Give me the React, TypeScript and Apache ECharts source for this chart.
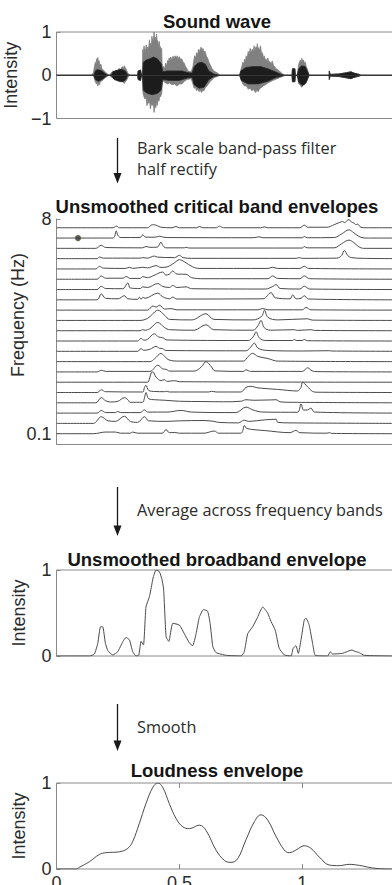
import React, { useEffect, useRef } from 'react';
import * as echarts from 'echarts';

// ---------- axis / tick data ----------
const TIME_MIN = 0;
const TIME_MAX = 1.4;
const timeTicks = [0, 0.5, 1];
const bandTickValues = [0, 20.85];
const bandTickLabels = ['0.1', '8'];

const titles = ['Sound wave', 'Unsmoothed critical band envelopes', 'Unsmoothed broadband envelope', 'Loudness envelope'];
const stepLabels = ['Bark scale band-pass filter', 'half rectify', 'Average across frequency bands', 'Smooth'];

// ---------- sound wave (envelopes, [time s, amplitude]) ----------
const waveOuterUpper = [[0,0],[0.14,0],[0.15,0.05],[0.155,0.22],[0.158,0.3],[0.161,0.25],[0.163,0.38],[0.166,0.33],[0.168,0.41],[0.171,0.3],[0.173,0.34],[0.177,0.22],[0.18,0.26],[0.185,0.15],[0.19,0.12],[0.205,0.04],[0.215,0],[0.222,0.05],[0.23,0.1],[0.236,0.08],[0.24,0.12],[0.248,0.1],[0.255,0.16],[0.26,0.13],[0.268,0.2],[0.272,0.16],[0.276,0.22],[0.28,0.17],[0.283,0.15],[0.29,0.05],[0.3,0],[0.33,0],[0.332,0.1],[0.342,0.12],[0.346,0],[0.349,0],[0.351,0.6],[0.354,0.5],[0.356,0.68],[0.36,0.55],[0.363,0.62],[0.365,0.7],[0.369,0.58],[0.372,0.66],[0.375,0.6],[0.378,0.82],[0.381,0.66],[0.383,0.74],[0.386,0.68],[0.388,0.9],[0.392,0.78],[0.395,0.86],[0.397,1.0],[0.4,0.8],[0.402,0.88],[0.405,0.78],[0.407,0.95],[0.41,0.75],[0.412,0.8],[0.415,0.66],[0.418,0.78],[0.421,0.6],[0.423,0.66],[0.426,0.55],[0.428,0.62],[0.43,0.15],[0.435,0.2],[0.44,0.16],[0.444,0.28],[0.448,0.22],[0.452,0.34],[0.455,0.3],[0.458,0.4],[0.462,0.34],[0.465,0.42],[0.47,0.36],[0.474,0.44],[0.478,0.38],[0.482,0.45],[0.487,0.4],[0.491,0.45],[0.495,0.39],[0.5,0.43],[0.505,0.36],[0.51,0.38],[0.515,0.3],[0.52,0.28],[0.525,0.2],[0.53,0.16],[0.535,0.1],[0.548,0.08],[0.555,0.2],[0.558,0.32],[0.562,0.45],[0.566,0.4],[0.57,0.52],[0.574,0.48],[0.578,0.6],[0.582,0.55],[0.588,0.65],[0.592,0.58],[0.596,0.62],[0.6,0.52],[0.604,0.56],[0.61,0.44],[0.615,0.4],[0.62,0.3],[0.625,0.25],[0.632,0.16],[0.64,0.1],[0.655,0.05],[0.665,0],[0.745,0],[0.75,0.12],[0.754,0.2],[0.758,0.3],[0.762,0.26],[0.765,0.37],[0.769,0.33],[0.772,0.45],[0.776,0.4],[0.78,0.55],[0.784,0.48],[0.788,0.62],[0.792,0.52],[0.796,0.6],[0.8,0.55],[0.804,0.68],[0.808,0.58],[0.812,0.66],[0.815,0.6],[0.817,0.73],[0.82,0.6],[0.823,0.64],[0.826,0.55],[0.83,0.68],[0.834,0.5],[0.838,0.52],[0.842,0.4],[0.845,0.45],[0.849,0.36],[0.852,0.38],[0.856,0.32],[0.86,0.4],[0.864,0.3],[0.868,0.32],[0.873,0.26],[0.878,0.33],[0.883,0.22],[0.888,0.2],[0.893,0.15],[0.898,0.14],[0.91,0.08],[0.92,0.03],[0.93,0],[0.958,0],[0.96,0.15],[0.97,0.15],[0.972,0],[0.98,0],[0.985,0.25],[0.988,0.3],[0.992,0.35],[0.995,0.3],[0.998,0.39],[1.002,0.32],[1.005,0.35],[1.009,0.28],[1.012,0.3],[1.016,0.2],[1.02,0.15],[1.028,0],[1.109,0],[1.11,0.1],[1.113,0.02],[1.15,0.03],[1.18,0.06],[1.198,0.08],[1.21,0.05],[1.232,0.02],[1.24,0],[1.4,0]];
const waveOuterLower = [[0,0],[0.15,0],[0.155,-0.1],[0.158,-0.15],[0.162,-0.2],[0.165,-0.17],[0.168,-0.25],[0.172,-0.18],[0.175,-0.22],[0.178,-0.15],[0.183,-0.14],[0.19,-0.1],[0.205,-0.03],[0.215,0],[0.225,-0.05],[0.24,-0.1],[0.25,-0.12],[0.26,-0.15],[0.268,-0.14],[0.276,-0.19],[0.28,-0.15],[0.285,-0.12],[0.295,0],[0.33,0],[0.332,-0.1],[0.342,-0.12],[0.346,0],[0.349,0],[0.352,-0.42],[0.356,-0.5],[0.36,-0.55],[0.364,-0.5],[0.368,-0.7],[0.372,-0.6],[0.375,-0.65],[0.379,-0.6],[0.382,-0.78],[0.386,-0.66],[0.39,-0.7],[0.394,-0.65],[0.397,-0.86],[0.401,-0.7],[0.404,-0.75],[0.407,-0.62],[0.41,-0.7],[0.414,-0.55],[0.417,-0.6],[0.42,-0.48],[0.423,-0.5],[0.428,-0.42],[0.432,-0.12],[0.44,-0.16],[0.45,-0.2],[0.46,-0.18],[0.47,-0.22],[0.48,-0.2],[0.49,-0.25],[0.5,-0.2],[0.51,-0.2],[0.52,-0.14],[0.53,-0.1],[0.548,-0.08],[0.556,-0.22],[0.56,-0.3],[0.565,-0.28],[0.57,-0.36],[0.575,-0.32],[0.58,-0.38],[0.585,-0.34],[0.59,-0.4],[0.595,-0.35],[0.6,-0.36],[0.606,-0.28],[0.612,-0.25],[0.625,-0.15],[0.64,-0.06],[0.665,0],[0.745,0],[0.752,-0.12],[0.758,-0.2],[0.765,-0.25],[0.772,-0.24],[0.78,-0.32],[0.788,-0.3],[0.795,-0.36],[0.802,-0.33],[0.81,-0.4],[0.815,-0.34],[0.82,-0.38],[0.828,-0.3],[0.835,-0.28],[0.842,-0.24],[0.85,-0.22],[0.86,-0.18],[0.87,-0.15],[0.88,-0.12],[0.89,-0.1],[0.91,-0.05],[0.93,0],[0.958,0],[0.96,-0.15],[0.97,-0.15],[0.972,0],[0.98,0],[0.985,-0.2],[0.99,-0.22],[0.998,-0.28],[1.004,-0.22],[1.01,-0.22],[1.02,-0.1],[1.028,0],[1.109,0],[1.11,-0.1],[1.113,-0.02],[1.15,-0.03],[1.18,-0.06],[1.198,-0.08],[1.21,-0.05],[1.232,-0.02],[1.24,0],[1.4,0]];
const waveCoreUpper = [[0,0],[0.152,0],[0.158,0.1],[0.165,0.13],[0.175,0.12],[0.185,0.1],[0.2,0.03],[0.21,0],[0.222,0],[0.23,0.08],[0.25,0.12],[0.265,0.14],[0.28,0.1],[0.29,0],[0.33,0],[0.332,0.1],[0.342,0.12],[0.346,0],[0.35,0],[0.353,0.3],[0.365,0.35],[0.38,0.38],[0.395,0.42],[0.41,0.38],[0.422,0.3],[0.428,0.25],[0.432,0.08],[0.45,0.1],[0.48,0.1],[0.51,0.1],[0.535,0.06],[0.552,0.05],[0.56,0.2],[0.575,0.28],[0.59,0.3],[0.605,0.26],[0.62,0.1],[0.64,0.03],[0.665,0],[0.745,0],[0.75,0.1],[0.77,0.18],[0.8,0.2],[0.83,0.2],[0.86,0.15],[0.89,0.08],[0.915,0.02],[0.93,0],[0.958,0],[0.96,0.15],[0.97,0.15],[0.972,0],[0.98,0],[0.985,0.15],[0.998,0.22],[1.012,0.2],[1.022,0.08],[1.028,0],[1.109,0],[1.11,0.1],[1.113,0.02],[1.15,0.03],[1.18,0.06],[1.198,0.08],[1.21,0.05],[1.232,0.02],[1.24,0],[1.4,0]];
const waveCoreLower = [[0,0],[0.152,0],[0.158,-0.1],[0.17,-0.14],[0.185,-0.1],[0.2,-0.03],[0.21,0],[0.222,0],[0.235,-0.1],[0.255,-0.14],[0.27,-0.15],[0.282,-0.1],[0.29,0],[0.33,0],[0.332,-0.1],[0.342,-0.12],[0.346,0],[0.35,0],[0.353,-0.35],[0.37,-0.42],[0.39,-0.45],[0.41,-0.42],[0.425,-0.35],[0.432,-0.1],[0.46,-0.12],[0.5,-0.12],[0.535,-0.06],[0.552,-0.05],[0.56,-0.22],[0.58,-0.3],[0.6,-0.28],[0.62,-0.1],[0.64,-0.03],[0.665,0],[0.745,0],[0.752,-0.12],[0.78,-0.2],[0.82,-0.2],[0.86,-0.14],[0.89,-0.06],[0.93,0],[0.958,0],[0.96,-0.15],[0.97,-0.15],[0.972,0],[0.98,0],[0.985,-0.15],[1.0,-0.24],[1.015,-0.18],[1.028,0],[1.109,0],[1.11,-0.1],[1.113,-0.02],[1.15,-0.03],[1.18,-0.06],[1.198,-0.08],[1.21,-0.05],[1.232,-0.02],[1.24,0],[1.4,0]];

// ---------- critical band envelopes ([time s, height above band baseline]) ----------
const band00 = [[0,0],[0.15,0],[0.2,0.16],[0.24,0.16],[0.26,0.05],[0.3,0.05],[0.31,0.16],[0.33,0.05],[0.43,0.05],[0.446,0.4],[0.459,0.1],[0.48,0.12],[0.5,0.05],[0.6,0.05],[0.642,0.26],[0.66,0.05],[0.75,0.05],[0.758,0.3],[0.764,0.8],[0.775,0.5],[0.85,0.3],[0.95,0.1],[0.974,0.32],[0.99,0.1],[1.1,0.05],[1.11,0.1],[1.12,0.03],[1.4,0]];
const band01 = [[0,0],[0.15,0],[0.182,0.65],[0.21,0.25],[0.24,0.2],[0.276,0.7],[0.3,0.2],[0.33,0.1],[0.358,0.65],[0.375,0.25],[0.45,0.2],[0.5,0.25],[0.6,0.28],[0.64,0.2],[0.66,0.1],[0.74,0.05],[0.764,0.32],[0.78,0.2],[0.85,0.35],[0.893,0.4],[0.9,0.1],[0.95,0.05],[1.4,0]];
const band02 = [[0,0],[0.165,0],[0.182,0.26],[0.2,0.05],[0.24,0.05],[0.249,0.16],[0.26,0.05],[0.34,0.05],[0.358,0.32],[0.37,0.1],[0.45,0.1],[0.507,0.26],[0.55,0.1],[0.73,0.05],[0.771,0.58],[0.8,0.3],[0.84,0.1],[0.98,0.08],[0.995,0.9],[1.005,0.3],[1.02,0.3],[1.035,0.48],[1.05,0.1],[1.4,0]];
const band03 = [[0,0],[0.16,0],[0.182,0.5],[0.2,0.2],[0.22,0.08],[0.25,0.15],[0.276,0.5],[0.29,0.3],[0.3,0.05],[0.35,0.05],[0.358,0.5],[0.364,1.0],[0.375,0.4],[0.4,0.3],[0.44,0.25],[0.5,0.15],[0.6,0.12],[0.68,0.1],[0.75,0.15],[0.771,0.3],[0.8,0.25],[0.87,0.28],[0.893,0.3],[0.91,0.1],[0.95,0.05],[1.4,0]];
const band04 = [[0,0],[0.165,0],[0.182,0.26],[0.2,0.08],[0.35,0.05],[0.358,0.5],[0.364,0.7],[0.375,0.2],[0.4,0.1],[0.439,0.08],[0.446,0.12],[0.46,0.05],[0.62,0.05],[0.63,0.12],[0.65,0.05],[0.75,0.05],[0.771,0.5],[0.791,0.6],[0.82,0.45],[0.9,0.3],[0.98,0.15],[0.995,0.5],[1.001,1.0],[1.02,0.6],[1.042,0.1],[1.06,0.03],[1.4,0]];
const band05 = [[0,0],[0.37,0],[0.378,0.3],[0.385,0.9],[0.392,1.0],[0.405,0.5],[0.425,0.15],[0.439,0.25],[0.45,0.08],[0.466,0.12],[0.48,0.15],[0.5,0.05],[1.4,0]];
const band06 = [[0,0],[0.165,0],[0.182,0.16],[0.2,0.05],[0.38,0.05],[0.412,0.65],[0.432,0.3],[0.446,0.25],[0.46,0.08],[0.56,0.08],[0.59,0.5],[0.608,1.0],[0.63,0.5],[0.645,0.1],[0.76,0.05],[0.771,0.2],[0.79,0.05],[1.0,0.05],[1.022,0.4],[1.04,0.1],[1.06,0.03],[1.4,0]];
const band07 = [[0,0],[0.38,0],[0.4,0.3],[0.425,0.8],[0.44,0.5],[0.459,0.15],[0.5,0.05],[0.76,0.05],[0.78,0.5],[0.798,0.8],[0.82,0.5],[0.86,0.3],[0.9,0.05],[1.4,0]];
const band08 = [[0,0],[0.33,0],[0.344,0.26],[0.355,0.1],[0.38,0.2],[0.405,0.48],[0.419,0.3],[0.432,0.26],[0.445,0.08],[0.77,0.05],[0.79,0.4],[0.805,0.8],[0.82,0.3],[0.86,0.08],[1.0,0.03],[1.11,0.06],[1.12,0.03],[1.4,0]];
const band09 = [[0,0],[0.33,0],[0.344,0.26],[0.355,0.08],[0.37,0.15],[0.398,0.7],[0.415,0.4],[0.432,0.32],[0.45,0.1],[0.78,0.05],[0.8,0.4],[0.812,0.9],[0.825,0.3],[0.85,0.05],[0.96,0.05],[0.967,0.16],[0.975,0.05],[1.0,0.05],[1.008,0.16],[1.02,0.03],[1.4,0]];
const band10 = [[0,0],[0.34,0],[0.351,0.1],[0.36,0.05],[0.38,0.2],[0.412,0.8],[0.44,0.3],[0.46,0.1],[0.56,0.05],[0.608,0.58],[0.64,0.1],[0.8,0.05],[0.82,0.5],[0.832,1.0],[0.845,0.3],[0.87,0.05],[0.967,0.1],[0.98,0.03],[1.035,0.1],[1.05,0.03],[1.4,0]];
const band11 = [[0,0],[0.34,0],[0.371,0.2],[0.39,0.6],[0.412,1.0],[0.44,0.5],[0.46,0.1],[0.55,0.05],[0.608,0.65],[0.64,0.1],[0.8,0.05],[0.835,0.4],[0.846,1.0],[0.86,0.3],[0.9,0.05],[1.022,0.16],[1.04,0.03],[1.4,0]];
const band12 = [[0,0],[0.37,0],[0.392,0.4],[0.405,0.3],[0.419,0.48],[0.44,0.1],[0.466,0.15],[0.49,0.03],[0.82,0.03],[0.839,0.16],[0.86,0.03],[1.0,0.03],[1.015,0.26],[1.035,0.03],[1.4,0]];
const band13 = [[0,0],[0.165,0],[0.182,0.58],[0.2,0.15],[0.25,0.1],[0.276,0.4],[0.29,0.1],[0.33,0.05],[0.337,0.25],[0.344,0.05],[0.351,0.25],[0.36,0.15],[0.412,0.65],[0.432,0.3],[0.46,0.1],[0.473,0.26],[0.49,0.08],[0.84,0.1],[0.873,0.7],[0.89,0.2],[0.95,0.1],[0.961,0.48],[0.975,0.1],[0.995,0.15],[1.008,0.4],[1.025,0.08],[1.4,0]];
const band14 = [[0,0],[0.165,0],[0.182,0.32],[0.2,0.1],[0.27,0.08],[0.29,0.65],[0.3,0.15],[0.34,0.1],[0.351,0.26],[0.37,0.2],[0.412,0.58],[0.432,0.3],[0.46,0.2],[0.473,0.4],[0.49,0.2],[0.527,0.26],[0.55,0.08],[0.85,0.05],[0.88,0.3],[0.893,0.48],[0.91,0.1],[0.99,0.05],[1.008,0.32],[1.03,0.05],[1.4,0]];
const band15 = [[0,0],[0.165,0],[0.182,0.32],[0.2,0.1],[0.27,0.1],[0.283,0.26],[0.3,0.08],[0.34,0.08],[0.351,0.26],[0.37,0.15],[0.39,0.3],[0.432,0.7],[0.445,0.4],[0.46,0.5],[0.473,0.8],[0.49,0.5],[0.527,0.48],[0.55,0.15],[0.6,0.05],[0.86,0.05],[0.879,0.32],[0.9,0.08],[0.99,0.05],[1.008,0.32],[1.03,0.05],[1.4,0]];
const band16 = [[0,0],[0.16,0],[0.175,0.26],[0.19,0.08],[0.28,0.05],[0.297,0.16],[0.31,0.05],[0.351,0.16],[0.37,0.1],[0.405,0.32],[0.425,0.15],[0.45,0.2],[0.48,0.6],[0.5,0.9],[0.52,0.7],[0.554,0.2],[0.58,0.05],[0.86,0.05],[0.879,0.16],[0.9,0.05],[0.99,0.05],[1.008,0.26],[1.025,0.05],[1.4,0]];
const band17 = [[0,0],[0.165,0],[0.175,0.16],[0.19,0.05],[0.34,0.05],[0.351,0.1],[0.37,0.05],[0.398,0.25],[0.41,0.15],[0.48,0.1],[0.5,0.32],[0.515,0.1],[0.55,0.03],[0.975,0.03],[0.988,0.1],[1.0,0.03],[1.14,0.05],[1.16,0.3],[1.171,0.8],[1.185,0.3],[1.2,0.1],[1.25,0.03],[1.4,0]];
const band18 = [[0,0],[0.16,0],[0.182,0.3],[0.2,0.08],[0.35,0.05],[0.364,0.18],[0.38,0.1],[0.41,0.12],[0.425,0.6],[0.432,0.3],[0.445,0.05],[0.52,0.05],[0.527,0.1],[0.54,0.03],[1.0,0.03],[1.008,0.18],[1.02,0.05],[1.13,0.05],[1.16,0.45],[1.19,0.8],[1.21,0.55],[1.23,0.15],[1.25,0],[1.4,0]];
const band19 = [[0,0],[0.23,0],[0.237,0.2],[0.243,0.7],[0.25,0.25],[0.262,0.05],[0.34,0.05],[0.351,0.3],[0.362,0.1],[0.4,0.08],[0.42,0.18],[0.432,0.1],[0.45,0.05],[0.8,0.03],[0.825,0.12],[0.84,0.03],[1.0,0.03],[1.008,0.15],[1.02,0.03],[1.13,0.05],[1.16,0.4],[1.19,0.8],[1.21,0.5],[1.235,0.1],[1.26,0],[1.4,0]];
const band20 = [[0,0],[0.23,0],[0.243,0.16],[0.256,0],[0.37,0],[0.385,0.25],[0.395,0.3],[0.41,0.2],[0.425,0.05],[0.47,0],[0.486,0.12],[0.5,0],[0.57,0],[0.581,0.12],[0.595,0],[0.65,0],[0.663,0.15],[0.68,0],[0.83,0],[0.846,0.08],[0.86,0],[0.99,0],[1.008,0.25],[1.022,0.05],[1.1,0.05],[1.13,0.3],[1.15,0.5],[1.164,0.6],[1.171,0.5],[1.19,0.8],[1.2,0.55],[1.211,0.45],[1.218,0.3],[1.225,0.35],[1.238,0.05],[1.26,0],[1.4,0]];
const bandList = [band00, band01, band02, band03, band04, band05, band06, band07, band08, band09, band10, band11, band12, band13, band14, band15, band16, band17, band18, band19, band20];
const markedPoint = [[0.0875, 19]];

// ---------- broadband envelope ----------
const broadband = [[0,0],[0.134,0],[0.154,0.023],[0.168,0.147],[0.179,0.34],[0.188,0.34],[0.199,0.147],[0.209,0.062],[0.229,0.012],[0.249,0.05],[0.27,0.167],[0.283,0.217],[0.297,0.186],[0.31,0.05],[0.324,0],[0.335,0.012],[0.344,0.17],[0.354,0.128],[0.364,0.57],[0.378,0.69],[0.389,0.85],[0.394,0.92],[0.405,1.0],[0.419,0.98],[0.43,0.88],[0.436,0.77],[0.446,0.22],[0.457,0.17],[0.473,0.38],[0.5,0.36],[0.52,0.26],[0.541,0.15],[0.554,0.12],[0.568,0.26],[0.581,0.45],[0.598,0.54],[0.615,0.52],[0.625,0.38],[0.636,0.11],[0.649,0.04],[0.69,0.008],[0.751,0],[0.764,0.05],[0.778,0.26],[0.798,0.34],[0.818,0.45],[0.839,0.57],[0.859,0.5],[0.873,0.4],[0.89,0.3],[0.906,0.09],[0.927,0.012],[0.954,0],[0.963,0.09],[0.974,0.12],[0.984,0.03],[0.995,0.19],[1.008,0.42],[1.015,0.44],[1.028,0.36],[1.042,0.147],[1.053,0.008],[1.103,0],[1.114,0.05],[1.123,0.023],[1.164,0.031],[1.202,0.07],[1.211,0.058],[1.232,0.039],[1.252,0.008],[1.362,0],[1.4,0]];

// ---------- loudness envelope ----------
const loudness = [[0,0],[0.08,0],[0.093,0.02],[0.134,0.085],[0.175,0.17],[0.202,0.19],[0.256,0.2],[0.29,0.24],[0.31,0.32],[0.337,0.53],[0.364,0.76],[0.392,0.95],[0.412,1.0],[0.432,0.95],[0.459,0.76],[0.486,0.59],[0.514,0.49],[0.541,0.47],[0.581,0.51],[0.608,0.45],[0.649,0.22],[0.683,0.1],[0.71,0.077],[0.737,0.12],[0.771,0.34],[0.805,0.55],[0.832,0.63],[0.859,0.57],[0.893,0.38],[0.927,0.22],[0.947,0.19],[0.974,0.22],[1.008,0.27],[1.035,0.24],[1.069,0.14],[1.11,0.046],[1.15,0.039],[1.19,0.054],[1.232,0.042],[1.286,0.012],[1.354,0],[1.4,0]];

// ---------- styling ----------
const FONT = '"Liberation Sans", Arial, Helvetica, sans-serif';
const NOTE_FONT = '"Open Sans", "Noto Sans", sans-serif';
const AXIS_GRAY = '#8a8a8a';
const TEXT = '#2b2b2b';
const LINE = '#4a4a4a';
const PLOT_LEFT = 56.5;
const PLOT_WIDTH = 344.1;

function buildOption() {
  const gridBase = { left: PLOT_LEFT, width: PLOT_WIDTH, outerBoundsMode: 'none', containLabel: false };
  const grids = [
    { ...gridBase, top: 32, height: 86.5, show: true, borderColor: AXIS_GRAY, borderWidth: 1 },
    { ...gridBase, top: 219, height: 225 },
    { ...gridBase, top: 570, height: 86, show: true, borderColor: AXIS_GRAY, borderWidth: 1 },
    { ...gridBase, top: 783, height: 86, show: true, borderColor: AXIS_GRAY, borderWidth: 1 },
  ];
  const hiddenX = (gridIndex: number) => ({
    type: 'value', gridIndex, min: TIME_MIN, max: TIME_MAX,
    axisLine: { show: false }, axisTick: { show: false }, axisLabel: { show: false }, splitLine: { show: false },
  });
  const tickLabel = { fontSize: 18, fontFamily: FONT, color: TEXT };
  const xAxes: any[] = [
    hiddenX(0),
    { ...hiddenX(1), axisLine: { show: true, onZero: false, lineStyle: { color: AXIS_GRAY, width: 1 } } },
    hiddenX(2),
    {
      type: 'value', gridIndex: 3, min: TIME_MIN, max: TIME_MAX,
      axisLine: { show: false },
      axisTick: { show: true, inside: true, length: 5, customValues: timeTicks, lineStyle: { color: AXIS_GRAY } },
      axisLabel: { show: true, customValues: timeTicks, margin: 5, ...tickLabel },
      splitLine: { show: false },
    },
    {
      type: 'value', gridIndex: 3, position: 'top', min: TIME_MIN, max: TIME_MAX,
      axisLine: { show: false },
      axisTick: { show: true, inside: true, length: 5, customValues: timeTicks, lineStyle: { color: AXIS_GRAY } },
      axisLabel: { show: false }, splitLine: { show: false },
    },
  ];
  const nameStyle = { fontSize: 18, fontFamily: FONT, color: TEXT };
  const yAxes: any[] = [
    {
      type: 'value', gridIndex: 0, min: -1, max: 1, interval: 1,
      name: 'Intensity', nameLocation: 'middle', nameGap: 29, nameTextStyle: nameStyle,
      axisLine: { show: false },
      axisTick: { show: true, inside: true, length: 4, lineStyle: { color: AXIS_GRAY } },
      axisLabel: { ...tickLabel, margin: 5, formatter: (v: number) => (v < 0 ? '\u2212' + Math.abs(v) : String(v)) },
      splitLine: { show: false },
    },
    {
      type: 'value', gridIndex: 1, min: -1, max: 20.85,
      axisLine: { show: true, onZero: false, lineStyle: { color: AXIS_GRAY, width: 1 } },
      axisTick: { show: true, inside: true, length: 4, customValues: bandTickValues, lineStyle: { color: AXIS_GRAY } },
      axisLabel: {
        ...tickLabel, margin: 5, customValues: bandTickValues,
        formatter: (v: number) => bandTickLabels[bandTickValues.indexOf(v)] ?? '',
      },
      splitLine: { show: false },
    },
    {
      type: 'value', gridIndex: 2, min: 0, max: 1, interval: 1,
      name: 'Intensity', nameLocation: 'middle', nameGap: 29, nameTextStyle: nameStyle,
      axisLine: { show: false },
      axisTick: { show: true, inside: true, length: 4, lineStyle: { color: AXIS_GRAY } },
      axisLabel: { ...tickLabel, margin: 5 },
      splitLine: { show: false },
    },
    {
      type: 'value', gridIndex: 3, min: 0, max: 1, interval: 1,
      name: 'Intensity', nameLocation: 'middle', nameGap: 29, nameTextStyle: nameStyle,
      axisLine: { show: false },
      axisTick: { show: true, inside: true, length: 4, lineStyle: { color: AXIS_GRAY } },
      axisLabel: { ...tickLabel, margin: 5 },
      splitLine: { show: false },
    },
  ];

  const waveSeries = (name: string, data: number[][], color: string, lineColor: string, z: number) => ({
    name, type: 'line', xAxisIndex: 0, yAxisIndex: 0, data, showSymbol: false, symbol: 'none', z,
    lineStyle: { color: lineColor, width: 0.8 }, areaStyle: { color, opacity: 1 },
  });

  const series: any[] = [
    waveSeries('wave outer upper', waveOuterUpper, '#808080', '#808080', 2),
    waveSeries('wave outer lower', waveOuterLower, '#808080', '#808080', 2),
    waveSeries('wave core upper', waveCoreUpper, '#1c1c1c', '#2a2a2a', 3),
    waveSeries('wave core lower', waveCoreLower, '#1c1c1c', '#2a2a2a', 3),
  ];
  bandList.forEach((band, i) => {
    series.push({
      name: 'band ' + i, type: 'line', xAxisIndex: 1, yAxisIndex: 1, symbol: 'none', smooth: 0.35,
      data: band.map(([t, h]) => [t, h + i]),
      lineStyle: { color: LINE, width: 1 },
    });
  });
  series.push({
    name: 'marker', type: 'scatter', xAxisIndex: 1, yAxisIndex: 1, data: markedPoint,
    symbolSize: 6, itemStyle: { color: '#333', borderColor: '#8a8a5a', borderWidth: 0.6 }, z: 5,
  });
  series.push({
    name: 'broadband', type: 'line', xAxisIndex: 2, yAxisIndex: 2, data: broadband, symbol: 'none', smooth: 0.15,
    lineStyle: { color: LINE, width: 1 },
  });
  series.push({
    name: 'loudness', type: 'line', xAxisIndex: 3, yAxisIndex: 3, data: loudness, symbol: 'none', smooth: 0.4,
    lineStyle: { color: LINE, width: 1 },
  });

  const titleText = (text: string, y: number) => ({
    type: 'text', x: 217, y, style: { text, fontSize: 18.5, fontWeight: 'bold', fontFamily: FONT, fill: '#151515', align: 'center', verticalAlign: 'middle' },
  });
  const note = (text: string, y: number) => ({
    type: 'text', x: 137, y, style: { text, fontSize: 16.3, fontFamily: NOTE_FONT, fill: TEXT, align: 'left', verticalAlign: 'middle' },
  });
  const arrow = (y1: number, y2: number) => [
    { type: 'line', shape: { x1: 117.5, y1, x2: 117.5, y2: y2 - 8 }, style: { stroke: '#1a1a1a', lineWidth: 1.3 } },
    { type: 'polygon', shape: { points: [[113.5, y2 - 10.5], [121.5, y2 - 10.5], [117.5, y2]] }, style: { fill: '#1a1a1a' } },
  ];

  const graphic = [
    titleText(titles[0], 21),
    titleText(titles[1], 206),
    titleText(titles[2], 559),
    titleText(titles[3], 770),
    note(stepLabels[0], 147.5),
    note(stepLabels[1], 169),
    note(stepLabels[2], 510),
    note(stepLabels[3], 727),
    ...arrow(138, 183.5),
    ...arrow(487, 536),
    ...arrow(704, 751),
    {
      type: 'text', x: 18, y: 315, rotation: Math.PI / 2,
      style: { text: 'Frequency (Hz)', fontSize: 18, fontFamily: FONT, fill: TEXT, align: 'center', verticalAlign: 'middle' },
    },
  ];

  return {
    animation: false,
    backgroundColor: '#ffffff',
    grid: grids,
    xAxis: xAxes,
    yAxis: yAxes,
    series,
    graphic,
  };
}

export default function App() {
  const ref = useRef<HTMLDivElement>(null);
  useEffect(() => {
    if (!ref.current) return;
    const chart = echarts.init(ref.current, null, { renderer: 'svg' });
    chart.setOption(buildOption() as any);
    return () => chart.dispose();
  }, []);
  return <div ref={ref} style={{ position: 'absolute', left: 0, top: 0, width: 392, height: 885 }} />;
}
